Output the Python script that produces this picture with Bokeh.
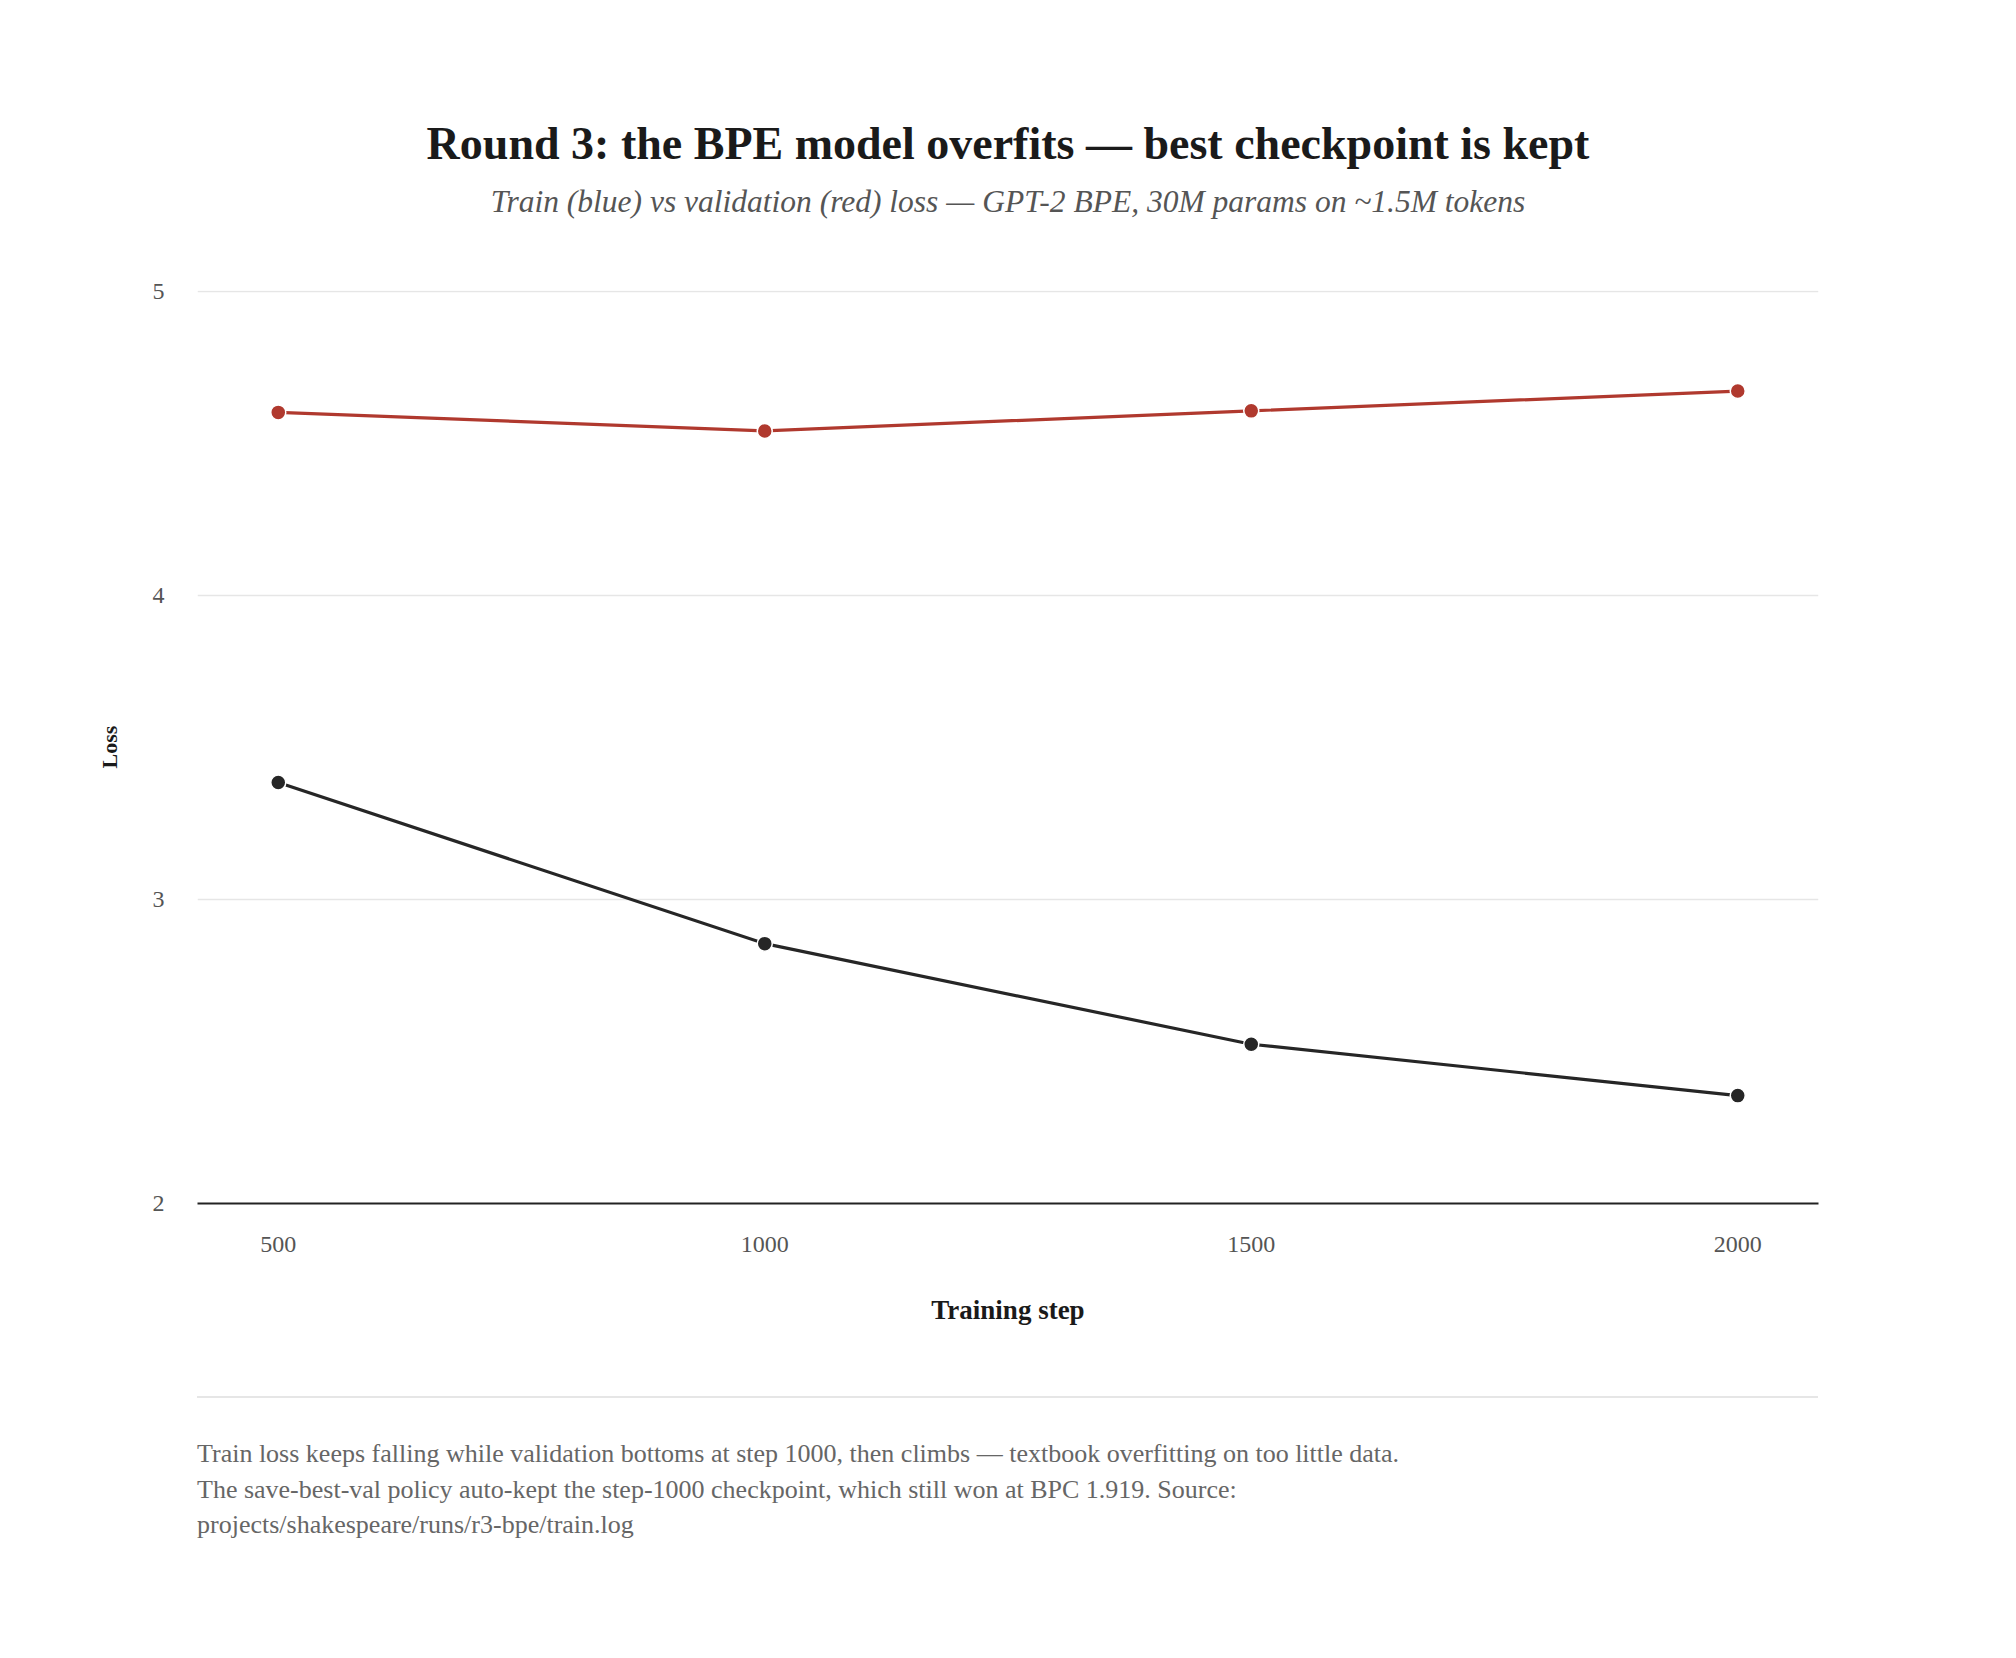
from bokeh.plotting import figure
from bokeh.models import Range1d, Div
from bokeh.layouts import column
from bokeh.embed import file_html
from bokeh.resources import INLINE

# ---- data ----
steps = [500, 1000, 1500, 2000]
train_loss = [3.385, 2.855, 2.524, 2.355]
val_loss = [4.603, 4.542, 4.608, 4.673]
y_ticks = [2, 3, 4, 5]

title_text = "Round 3: the BPE model overfits \u2014 best checkpoint is kept"
subtitle_text = "Train (blue) vs validation (red) loss \u2014 GPT-2 BPE, 30M params on ~1.5M tokens"
x_label = "Training step"
y_label = "Loss"
foot_lines = [
    "Train loss keeps falling while validation bottoms at step 1000, then climbs \u2014 textbook overfitting on too little data.",
    "The save-best-val policy auto-kept the step-1000 checkpoint, which still won at BPC 1.919. Source:",
    "projects/shakespeare/runs/r3-bpe/train.log",
]

FONT = "Liberation Serif"
RED = "#b0392e"
DARK = "#262626"

W = 2016
HEAD_H, FIG_H, FOOT_H = 250, 1130, 278
ML, MR, MT, MB = 197, 198, 40, 177

# ---- header ----
head_html = (
    f'<div style="position:relative;width:{W}px;height:{HEAD_H}px;font-family:\'{FONT}\';">'
    f'<div style="position:absolute;left:0;top:121px;width:{W}px;text-align:center;'
    f'font-size:46px;line-height:1;font-weight:bold;color:#1a1a1a;white-space:nowrap;">{title_text}</div>'
    f'<div style="position:absolute;left:0;top:186px;width:{W}px;text-align:center;'
    f'font-size:31.5px;line-height:1;font-style:italic;color:#555555;white-space:nowrap;">{subtitle_text}</div>'
    '</div>'
)
header = Div(text=head_html, width=W, height=HEAD_H, margin=0)

# ---- plot ----
p = figure(width=W, height=FIG_H, x_range=Range1d(417, 2083), y_range=Range1d(2, 5.004),
           output_backend="svg", toolbar_location=None,
           min_border_left=ML, min_border_right=MR, min_border_top=MT, min_border_bottom=MB,
           margin=0)
p.outline_line_color = None
p.background_fill_color = "white"
p.border_fill_color = "white"

p.xgrid.visible = False
p.ygrid.grid_line_color = "#e6e6e6"
p.ygrid.grid_line_width = 1.5

p.xaxis.ticker = steps
p.yaxis.ticker = y_ticks
for ax in (p.xaxis, p.yaxis):
    ax.major_tick_line_color = None
    ax.minor_tick_line_color = None
    ax.major_label_text_font = FONT
    ax.major_label_text_font_size = "24px"
    ax.major_label_text_color = "#555555"
    ax.axis_label_text_font = FONT
    ax.axis_label_text_font_style = "bold"
    ax.axis_label_text_color = "#1a1a1a"
p.xaxis.axis_label_text_font_size = "27px"
p.yaxis.axis_label_text_font_size = "22px"
p.yaxis.axis_line_color = None
p.xaxis.axis_line_color = "#222222"
p.xaxis.axis_line_width = 2
p.xaxis.major_label_standoff = 27
p.yaxis.major_label_standoff = 27
p.xaxis.axis_label = x_label
p.yaxis.axis_label = y_label
p.xaxis.axis_label_standoff = 40
p.yaxis.axis_label_standoff = 28

p.line(steps, val_loss, line_color=RED, line_width=3.2)
p.scatter(steps, val_loss, size=15, fill_color=RED, line_color="white", line_width=1.5)
p.line(steps, train_loss, line_color=DARK, line_width=3.2)
p.scatter(steps, train_loss, size=15, fill_color=DARK, line_color="white", line_width=1.5)

# ---- footer ----
foot_parts = [
    f'<div style="position:relative;width:{W}px;height:{FOOT_H}px;font-family:\'{FONT}\';">',
    f'<div style="position:absolute;left:{ML}px;top:16px;width:{W - ML - MR}px;height:0;'
    'border-top:2px solid #e6e6e6;"></div>',
]
for i, t in enumerate(foot_lines):
    foot_parts.append(
        f'<div style="position:absolute;left:{ML}px;top:{61 + 35.5 * i}px;font-size:26px;line-height:1;'
        f'color:#666666;white-space:nowrap;">{t}</div>'
    )
foot_parts.append('</div>')
footer = Div(text="".join(foot_parts), width=W, height=FOOT_H, margin=0)

layout = column(header, p, footer, spacing=0, margin=0)
open("out.html", "w").write(file_html(layout, INLINE))
